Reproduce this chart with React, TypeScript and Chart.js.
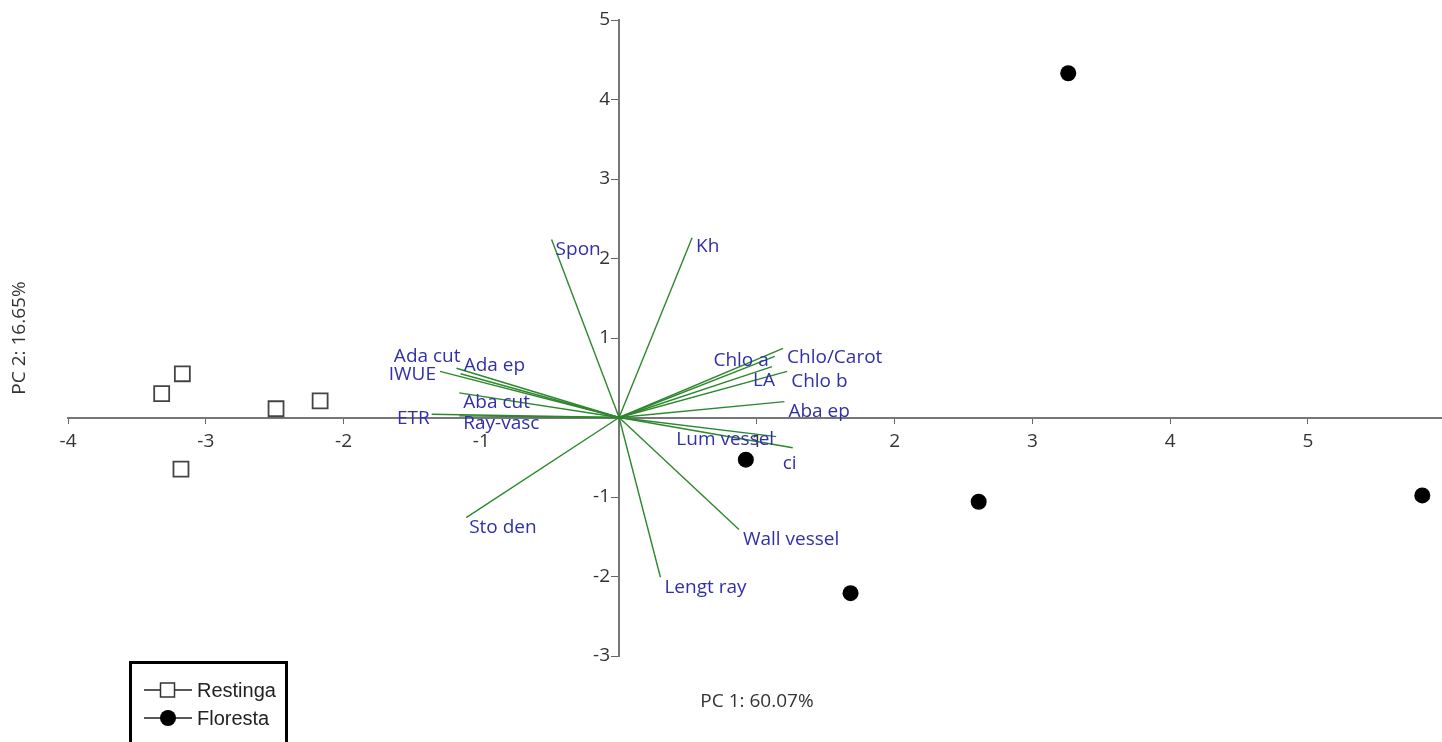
import React, { useEffect, useRef } from "react";
import { Chart, registerables } from "chart.js";

Chart.register(...registerables);

// ---- Data ----
const restingaX = [-3.32, -3.17, -2.49, -2.17, -3.18];
const restingaY = [0.3, 0.55, 0.11, 0.21, -0.65];
const florestaX = [3.26, 0.92, 2.61, 1.68, 5.83];
const florestaY = [4.33, -0.53, -1.06, -2.21, -0.98];

const variableNames = [
  "Spon", "Kh", "Ada cut", "IWUE", "Ada ep", "Aba cut", "ETR", "Ray-vasc",
  "Chlo a", "Chlo/Carot", "LA", "Chlo b", "Aba ep", "Lum vessel", "ci",
  "Sto den", "Wall vessel", "Lengt ray",
];
const loadingPC1 = [
  -0.49, 0.53, -1.18, -1.3, -1.15, -1.16, -1.36, -1.16,
  1.13, 1.19, 1.11, 1.22, 1.2, 1.14, 1.26,
  -1.11, 0.87, 0.3,
];
const loadingPC2 = [
  2.24, 2.26, 0.62, 0.58, 0.55, 0.31, 0.04, 0.02,
  0.77, 0.87, 0.64, 0.58, 0.2, -0.24, -0.38,
  -1.26, -1.41, -2.01,
];

const xTickValues = [-4, -3, -2, -1, 1, 2, 3, 4, 5];
const yTickValues = [-3, -2, -1, 1, 2, 3, 4, 5];

const xTitle = "PC 1: 60.07%";
const yTitle = "PC 2: 16.65%";
const legendLabels = ["Restinga", "Floresta"];

// ---- Styles (label placement offsets in pixels) ----
const labelOffsets: [number, number, CanvasTextAlign][] = [
  [4, 10, "left"], [4, 9, "left"], [4, -12, "right"], [-4, 3, "right"],
  [3, -8, "left"], [4, 10, "left"], [-2, 4, "right"], [4, 8, "left"],
  [-6, 4, "right"], [4, 9, "left"], [3, 14, "right"], [4, 10, "left"],
  [4, 10, "left"], [-2, 3, "right"], [-10, 16, "left"],
  [3, 10, "left"], [4, 10, "left"], [4, 10, "left"],
];

const FONT = "'Open Sans', 'Noto Sans', sans-serif";
const FONT_SIZE = 19;
const LABEL_COLOR = "rgb(48,48,170)";
const VECTOR_COLOR = "rgb(45,135,45)";
const CANVAS_W = 1454; // chart.js reserves 12px on the right; the page clips it at 1442

const annotationPlugin = {
  id: "biplotAnnotations",
  afterDatasetsDraw(chart: any) {
    const ctx = chart.ctx as CanvasRenderingContext2D;
    const xs = chart.scales.x;
    const ys = chart.scales.y;
    ctx.save();
    // y tick labels (next to the centred axis)
    const x0 = xs.getPixelForValue(0);
    ctx.font = `${FONT_SIZE}px ${FONT}`;
    ctx.fillStyle = "#333";
    ctx.textAlign = "right";
    ctx.textBaseline = "middle";
    ys.ticks.forEach((t: any) => {
      ctx.fillText(String(t.value), x0 - 9, ys.getPixelForValue(t.value));
    });
    // variable labels
    ctx.fillStyle = LABEL_COLOR;
    variableNames.forEach((name, i) => {
      const px = xs.getPixelForValue(loadingPC1[i]);
      const py = ys.getPixelForValue(loadingPC2[i]);
      const [dx, dy, align] = labelOffsets[i];
      ctx.textAlign = align;
      ctx.fillText(name, px + dx, py + dy);
    });
    // axis titles
    ctx.fillStyle = "#333";
    ctx.textAlign = "center";
    ctx.fillText(xTitle, 757, 702);
    ctx.save();
    ctx.translate(20, 338);
    ctx.rotate(-Math.PI / 2);
    ctx.fillText(yTitle, 0, 0);
    ctx.restore();

    // legend
    ctx.strokeStyle = "#000";
    ctx.lineWidth = 3;
    ctx.strokeRect(130.5, 662.5, 156, 100);
    const rows = [690, 718];
    rows.forEach((ry, i) => {
      ctx.lineWidth = 1.5;
      ctx.strokeStyle = "#222";
      ctx.beginPath();
      ctx.moveTo(144, ry);
      ctx.lineTo(192, ry);
      ctx.stroke();
      if (i === 0) {
        ctx.fillStyle = "#fff";
        ctx.fillRect(160, ry - 7.5, 15, 15);
        ctx.strokeStyle = "#333";
        ctx.strokeRect(160.5, ry - 7, 14, 14);
      } else {
        ctx.fillStyle = "#000";
        ctx.beginPath();
        ctx.arc(168, ry, 8, 0, Math.PI * 2);
        ctx.fill();
      }
      ctx.fillStyle = "#222";
      ctx.font = `20px 'Liberation Sans', Arial, sans-serif`;
      ctx.textAlign = "left";
      ctx.fillText(legendLabels[i], 197, ry + 1);
    });
    ctx.restore();
  },
};

export default function App() {
  const canvasRef = useRef<HTMLCanvasElement | null>(null);

  useEffect(() => {
    const canvas = canvasRef.current;
    if (!canvas) return;

    const vectorDatasets = variableNames.map((name, i) => ({
      type: "line" as const,
      label: name,
      data: [
        { x: 0, y: 0 },
        { x: loadingPC1[i], y: loadingPC2[i] },
      ],
      borderColor: VECTOR_COLOR,
      borderWidth: 1.4,
      pointRadius: 0,
      fill: false,
      order: 2,
      clip: false as any,
    }));

    const chart = new Chart(canvas, {
      type: "scatter",
      data: {
        datasets: [
          {
            label: legendLabels[0],
            data: restingaX.map((x, i) => ({ x, y: restingaY[i] })),
            pointStyle: "rect",
            pointRadius: 10.6,
            backgroundColor: "#fff",
            borderColor: "#444",
            borderWidth: 1.8,
            order: 0,
          },
          {
            label: legendLabels[1],
            data: florestaX.map((x, i) => ({ x, y: florestaY[i] })),
            pointStyle: "circle",
            pointRadius: 8,
            backgroundColor: "#000",
            borderColor: "#000",
            borderWidth: 0,
            order: 0,
          },
          ...vectorDatasets,
        ] as any,
      },
      options: {
        responsive: false,
        animation: false,
        devicePixelRatio: 1,
        layout: { padding: { left: 68, right: 0, top: 20, bottom: 86 } },
        plugins: { legend: { display: false }, tooltip: { enabled: false } },
        events: [],
        scales: {
          x: {
            type: "linear",
            min: -4,
            max: 5.97,
            position: { y: 0 } as any,
            afterFit: (s: any) => {
              s.height = 0;
              s.paddingLeft = 0;
              s.paddingRight = 0;
            },
            afterBuildTicks: (s: any) => {
              s.ticks = xTickValues.map((v) => ({ value: v }));
            },
            grid: {
              drawOnChartArea: false,
              drawTicks: true,
              tickLength: 5,
              color: "#666",
              lineWidth: 1,
            },
            border: { display: true, color: "#777", width: 2 },
            ticks: {
              color: "#333",
              font: { family: FONT, size: FONT_SIZE },
              padding: 8,
              maxRotation: 0,
              autoSkip: false,
            },
          },
          y: {
            type: "linear",
            min: -3,
            max: 5,
            position: { x: 0 } as any,
            afterFit: (s: any) => {
              s.width = 0;
              s.paddingTop = 0;
              s.paddingBottom = 0;
            },
            afterBuildTicks: (s: any) => {
              s.ticks = yTickValues.map((v) => ({ value: v }));
            },
            grid: {
              drawOnChartArea: false,
              drawTicks: true,
              tickLength: 7,
              color: "#666",
              lineWidth: 1,
            },
            border: { display: true, color: "#777", width: 2 },
            ticks: { display: false, autoSkip: false },
          },
        },
      },
      plugins: [annotationPlugin],
    });

    return () => {
      chart.destroy();
    };
  }, []);

  return (
    <div
      style={{
        position: "fixed",
        left: 0,
        top: 0,
        width: 1442,
        height: 742,
        overflow: "hidden",
        background: "#fff",
      }}
    >
      <canvas ref={canvasRef} width={CANVAS_W} height={742} style={{ display: "block" }} />
    </div>
  );
}
